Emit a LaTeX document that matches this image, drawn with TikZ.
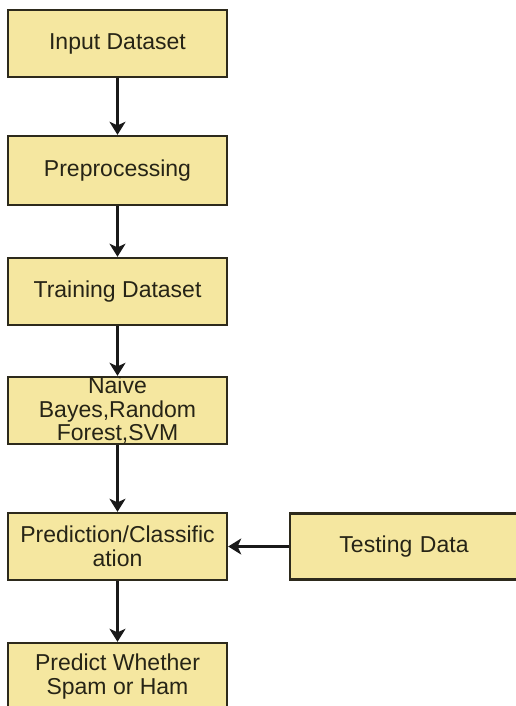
\documentclass[tikz,border=0pt]{standalone}
\usepackage{fontspec}
\setmainfont{Liberation Sans}
\usetikzlibrary{arrows.meta}
\definecolor{boxfill}{RGB}{245,231,160}
\definecolor{boxline}{RGB}{45,42,28}
\definecolor{txt}{RGB}{38,36,22}
\begin{document}
\begin{tikzpicture}[x=1pt,y=-1pt,
  box/.style={draw=boxline, fill=boxfill, line width=2.4pt, minimum width=219pt,
    minimum height=67pt, inner sep=0pt, align=center,
    font=\fontsize{23}{23.5}\selectfont, text=txt},
  arr/.style={draw=black!90, line width=2.3pt,
    -{Stealth[length=13pt,width=16pt,inset=3.5pt]}}]
\clip (0,0) rectangle (516,706);
\fill[white] (0,0) rectangle (516,706);
\node[box] (b1) at (117.5,43.5) {Input Dataset};
\node[box, minimum height=69pt] (b2) at (117.5,170.5) {Preprocessing};
\node[box] (b3) at (117.5,291.5) {Training Dataset};
\node[box] (b4) at (117.5,410.5) {Naive\\Bayes,Random\\Forest,SVM};
\node[box] (b5) at (117.5,546.5) {Prediction/Classific\\ation};
\node[box] (b6) at (117.5,676.5) {Predict Whether\\Spam or Ham};
\node[box, minimum width=236pt, minimum height=66pt, text width=228pt] (t) at (408,546.5) {\hspace*{-8pt}Testing Data};
\draw[arr] (b1) -- (b2);
\draw[arr] (b2) -- (b3);
\draw[arr] (b3) -- (b4);
\draw[arr] (b4) -- (b5);
\draw[arr] (b5) -- (b6);
\draw[arr] (t) -- (b5);
\end{tikzpicture}
\end{document}
